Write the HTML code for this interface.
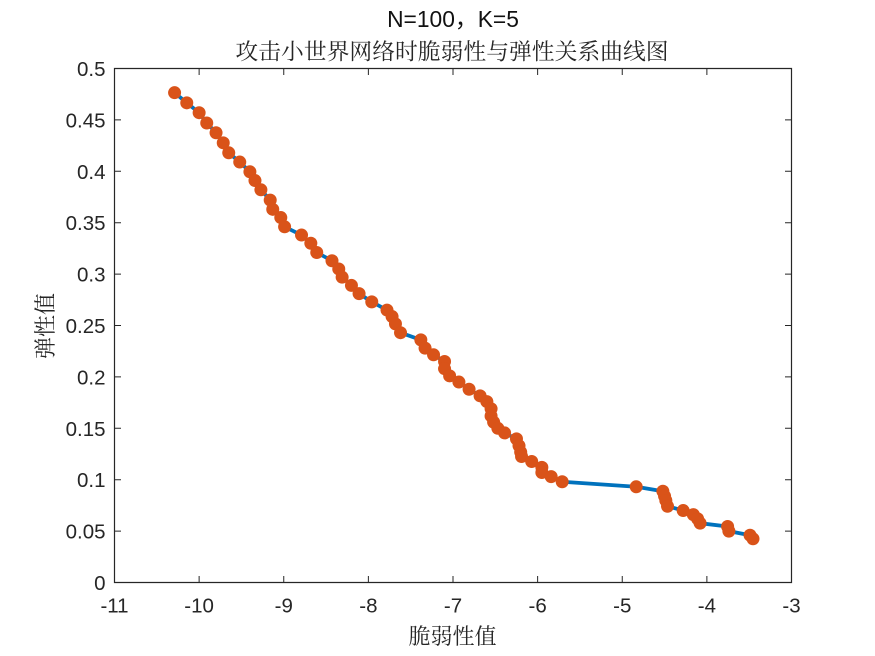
<!DOCTYPE html>
<html lang="zh">
<head>
<meta charset="utf-8">
<title>N=100，K=5</title>
<style>
html,body{margin:0;padding:0;background:#fff;}
body{width:875px;height:656px;overflow:hidden;}
svg{display:block;}
.tick{font-family:"Liberation Sans",Arial,sans-serif;font-size:20.5px;fill:#262626;}
.cjk{font-family:"Liberation Serif","Noto Serif CJK SC",serif;fill:#262626;}
</style>
</head>
<body>
<svg id="chart" xmlns="http://www.w3.org/2000/svg" width="875" height="656" viewBox="0 0 875 656">
  <text x="453" y="27" text-anchor="middle" font-family="'Liberation Sans','Noto Sans CJK SC',sans-serif" font-size="22.8" fill="#111">N=100，K=5</text>
  <text class="cjk" x="452" y="59.5" text-anchor="middle" font-size="22.8">攻击小世界网络时脆弱性与弹性关系曲线图</text>
  <text class="cjk" x="452.5" y="644" text-anchor="middle" font-size="22">脆弱性值</text>
  <text class="cjk" transform="translate(53,326) rotate(-90)" text-anchor="middle" font-size="22">弹性值</text>
  <g id="plot"></g>
</svg>
<script>
const xValues = [-10.29,-10.146,-10.0,-9.91,-9.80,-9.715,-9.65,-9.52,-9.40,-9.34,-9.27,-9.16,-9.13,-9.035,-8.99,-8.79,-8.68,-8.61,-8.43,-8.35,-8.31,-8.20,-8.11,-7.96,-7.78,-7.72,-7.68,-7.62,-7.38,-7.33,-7.23,-7.10,-7.10,-7.04,-6.93,-6.81,-6.68,-6.60,-6.55,-6.55,-6.52,-6.47,-6.39,-6.25,-6.22,-6.20,-6.19,-6.07,-5.95,-5.95,-5.84,-5.71,-4.835,-4.52,-4.50,-4.485,-4.465,-4.28,-4.16,-4.11,-4.08,-3.755,-3.74,-3.49,-3.455];
const yValues = [0.4765,0.4666,0.457,0.447,0.4375,0.4277,0.418,0.409,0.3995,0.391,0.382,0.372,0.363,0.355,0.346,0.338,0.330,0.321,0.313,0.305,0.297,0.289,0.281,0.273,0.265,0.2587,0.2516,0.243,0.236,0.228,0.2215,0.215,0.208,0.201,0.195,0.188,0.1816,0.176,0.169,0.162,0.156,0.150,0.1455,0.1397,0.133,0.1268,0.1226,0.1177,0.112,0.107,0.103,0.098,0.0931,0.0888,0.084,0.0798,0.0742,0.070,0.066,0.062,0.0577,0.0545,0.05,0.046,0.0425];
const xTicks = [-11,-10,-9,-8,-7,-6,-5,-4,-3];
const yTicks = [0,0.05,0.1,0.15,0.2,0.25,0.3,0.35,0.4,0.45,0.5];

const NS = 'http://www.w3.org/2000/svg';
const left = 114.5, right = 791.5, top_ = 68.5, bottom = 582.5;
function xScale(v){ return left + (v - (-11)) / 8 * (right - left); }
function yScale(v){ return bottom - v / 0.5 * (bottom - top_); }
const plot = document.getElementById('plot');
function make(tag, attrs){
  const el = document.createElementNS(NS, tag);
  for (const k in attrs) el.setAttribute(k, attrs[k]);
  return el;
}

const series = make('polyline', {
  points: xValues.map((x,i)=>xScale(x).toFixed(2)+','+yScale(yValues[i]).toFixed(2)).join(' '),
  fill:'none', stroke:'#0072BD', 'stroke-width':3.8, 'stroke-linejoin':'round'
});


plot.appendChild(series);

xValues.forEach((x,i)=>{
  const c = make('circle', {cx:xScale(x).toFixed(2), cy:yScale(yValues[i]).toFixed(2), r:6.5, fill:'#D95319'});
  
  
  plot.appendChild(c);
});

const frame = make('path', {
  d:`M${left} ${top_}H${right}V${bottom}H${left}Z`, fill:'none', stroke:'#262626', 'stroke-width':1.2
});


plot.appendChild(frame);

xTicks.forEach(v=>{
  const x = xScale(v);
  const t = make('path', {d:`M${x} ${bottom}v-6.5M${x} ${top_}v6.5`, stroke:'#262626', 'stroke-width':1, fill:'none'});
  
  
  plot.appendChild(t);
  const l = make('text', {x:x, y:bottom+30, 'text-anchor':'middle', class:'tick'});
  
  
  l.textContent = String(v);
  plot.appendChild(l);
});

yTicks.forEach(v=>{
  const y = yScale(v);
  const t = make('path', {d:`M${left} ${y}h6.5M${right} ${y}h-6.5`, stroke:'#262626', 'stroke-width':1, fill:'none'});
  
  
  plot.appendChild(t);
  const l = make('text', {x:left-9, y:y+7.5, 'text-anchor':'end', class:'tick'});
  
  
  l.textContent = String(v);
  plot.appendChild(l);
});
</script>
</body>
</html>
